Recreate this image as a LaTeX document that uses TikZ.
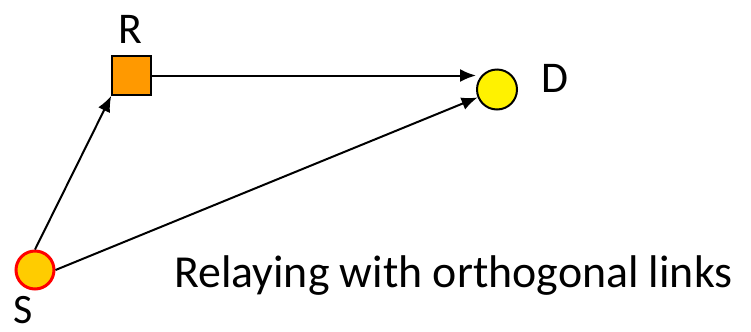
\documentclass[tikz,border=0pt]{standalone}
\usepackage{fontspec}
\setmainfont{Carlito}
\usetikzlibrary{arrows.meta}
\begin{document}
\begin{tikzpicture}[x=1bp, y=-1bp]
    \useasboundingbox (0,0) rectangle (751,331);
    \node[draw=red, fill={rgb,255:red,255;green,204;blue,0}, circle, line width=3bp, minimum size=38bp, inner sep=0pt] (S) at (35,270) {};
    \node[draw, fill={rgb,255:red,255;green,153;blue,0}, rectangle, line width=1.5bp, minimum size=39bp, inner sep=0pt] (R) at (131.5,75.5) {};
    \node[draw, fill=yellow, circle, line width=2bp, minimum size=40bp, inner sep=0pt] (D) at (497,89.5) {};

    \node[font=\fontsize{42}{42}\selectfont, anchor=base, inner sep=0pt] (lS) at (23,323) {S};
    \node[font=\fontsize{44}{44}\selectfont, anchor=base, inner sep=0pt] (lR) at (130,43) {R};
    \node[font=\fontsize{44}{44}\selectfont, anchor=base, inner sep=0pt] (lD) at (555,92) {D};
    \node[font=\fontsize{46}{46}\selectfont, anchor=base west, inner sep=0pt] (title) at (174,287) {Relaying with orthogonal links};

    \draw[-{Latex[length=16bp,width=13bp]}, line width=2bp] (S.north) -- (R.south west);
    \draw[-{Latex[length=16bp,width=13bp]}, line width=2bp] (S.east) -- (D);
    \draw[-{Latex[length=16bp,width=13bp]}, line width=2bp] (R.east) -- (R.east -| D.west);
\end{tikzpicture}
\end{document}
